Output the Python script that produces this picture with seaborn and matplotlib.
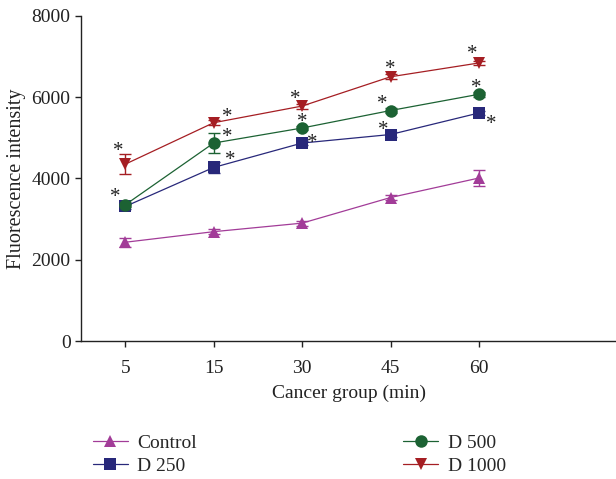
import matplotlib
matplotlib.use('Agg')
import matplotlib.pyplot as plt
import numpy as np
import pandas as pd
import seaborn as sns

# time points (min) shown as categories
times = ['5', '15', '30', '45', '60']
groups = ['Control', 'D 250', 'D 500', 'D 1000']

control = [2430, 2690, 2900, 3530, 4010]
d250 = [3310, 4270, 4870, 5080, 5610]
d500 = [3350, 4870, 5240, 5670, 6070]
d1000 = [4350, 5370, 5780, 6500, 6840]

control_err = [110, 60, 60, 60, 190]
d250_err = [60, 140, 60, 60, 60]
d500_err = [60, 250, 60, 60, 60]
d1000_err = [240, 60, 60, 60, 60]

# which points carry a significance star, per group
stars_d250 = [False, True, True, True, True]
stars_d500 = [True, True, True, True, True]
stars_d1000 = [True, True, True, True, True]

colors = {'Control': '#A23C98', 'D 250': '#28287A',
          'D 500': '#1C6233', 'D 1000': '#A51E23'}
markers = {'Control': '^', 'D 250': 's', 'D 500': 'o', 'D 1000': 'v'}

values = {'Control': control, 'D 250': d250, 'D 500': d500, 'D 1000': d1000}
errors = {'Control': control_err, 'D 250': d250_err, 'D 500': d500_err, 'D 1000': d1000_err}

rows = []
for g in groups:
    for i, t in enumerate(times):
        rows.append({'pos': i, 'time': t, 'group': g, 'value': values[g][i]})
df = pd.DataFrame(rows)

sns.set_style('ticks')
plt.rcParams['font.family'] = ['Liberation Serif', 'DejaVu Serif']

fig = plt.figure(figsize=(6.16, 4.79), dpi=100)
ax = fig.add_axes([0.1315, 0.288, 0.8685, 0.679])

for g in groups:
    ax.errorbar(range(len(times)), values[g], yerr=errors[g], fmt='none',
                ecolor=colors[g], elinewidth=1.0, capsize=4, capthick=1.0, zorder=2)

sns.lineplot(data=df, x='pos', y='value', hue='group', style='group',
             hue_order=groups, style_order=groups, palette=colors,
             markers=markers, dashes=False, markersize=9, linewidth=0.9,
             markeredgewidth=0, ax=ax, zorder=3)

# significance stars (offsets in points relative to each marker)
star_offsets = {
    'D 250': [None, (12, 5), (7, 0), (-5, 3), (9, -8)],
    'D 500': [(-7, 5), (10, 4), (0, 4), (-6, 4), (-2, 4)],
    'D 1000': [(-5, 9), (10, 4), (-5, 5), (0, 5), (-5, 6)],
}
star_flags = {'D 250': stars_d250, 'D 500': stars_d500, 'D 1000': stars_d1000}
for g, offs in star_offsets.items():
    for i, off in enumerate(offs):
        if off is None or not star_flags[g][i]:
            continue
        ax.annotate('*', (i, values[g][i]), xytext=off, textcoords='offset points',
                    ha='center', va='center', fontsize=15, color='#222222')

ax.set_xlim(-0.5, 5.55)
ax.set_ylim(0, 8000)
ax.set_yticks([0, 2000, 4000, 6000, 8000])
ax.set_xticks(range(len(times)))
ax.set_xticklabels(times)
ax.tick_params(labelsize=14, length=4, width=1, colors='#222222')
ax.tick_params(axis='x', pad=10)
ax.set_xlabel('Cancer group (min)', fontsize=14, color='#222222', labelpad=5)
ax.set_ylabel('Fluorescence intensity', fontsize=14.5, color='#222222')
sns.despine(ax=ax)
for s in ['left', 'bottom']:
    ax.spines[s].set_color('#222222')
    ax.spines[s].set_linewidth(1.0)

handles, labels = ax.get_legend_handles_labels()
ax.legend(handles, labels, loc='upper left', bbox_to_anchor=(0.022, -0.286), ncol=2,
          frameon=False, fontsize=14, columnspacing=10.6, handlelength=1.8,
          handletextpad=0.5, labelspacing=0.3, borderaxespad=0, borderpad=0)

fig.savefig('out.png', dpi=100)
